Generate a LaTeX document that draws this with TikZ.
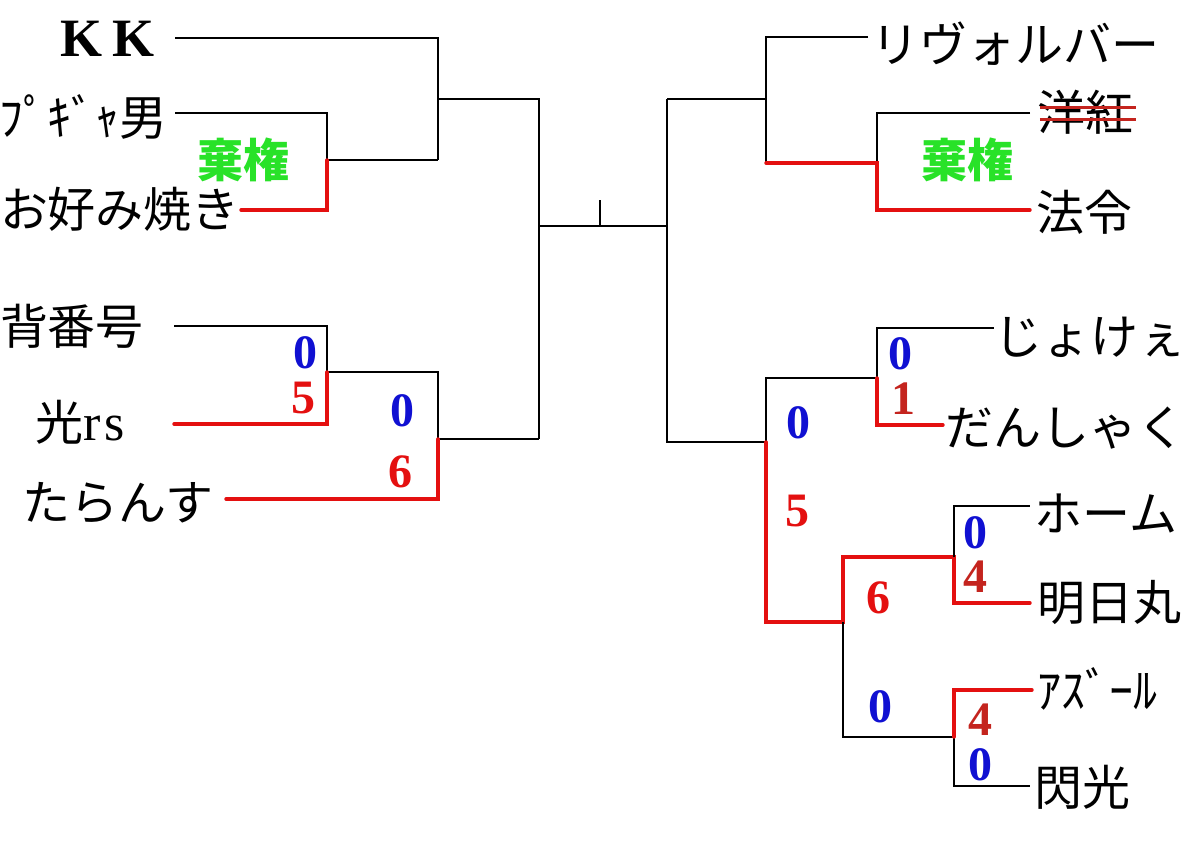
\documentclass[tikz,border=0pt]{standalone}
\usepackage{fontspec}
\newfontfamily\jp{Noto Sans CJK JP}
\newfontfamily\serifb{Liberation Serif}[BoldFont={Liberation Serif Bold}]
\definecolor{sblue}{RGB}{16,16,210}
\definecolor{sred}{RGB}{228,16,16}
\definecolor{dred}{RGB}{196,36,30}
\definecolor{sgreen}{RGB}{40,226,40}
\tikzset{
  pname/.style={inner sep=0pt, text height=42pt, text depth=6pt, font=\jp\fontsize{48}{48}\selectfont},
  score/.style={inner sep=0pt, text height=33pt, text depth=0pt, font=\serifb\bfseries\fontsize{48}{48}\selectfont},
  lose/.style={score, text=sblue},
  win/.style={score, text=sred},
  wind/.style={score, text=dred},
  forfeit/.style={inner sep=0pt, text=sgreen, font=\jp\bfseries\fontsize{46}{46}\selectfont},
  bk/.style={draw=black, line width=1.5pt},
  rd/.style={draw=sred, line width=3.4pt, line cap=round, line join=miter},
}
\begin{document}
\begin{tikzpicture}[x=1pt,y=-1pt]
\useasboundingbox[fill=white] (0,0) rectangle (1200,850);
% ---------- names ----------
\node[pname, text height=38pt, text depth=0pt] (kk) at (108,38) {\serifb\bfseries\fontsize{54}{54}\selectfont K\hspace{10pt}K};
\node[pname] (pg) at (83,118) {ﾌﾟｷﾞｬ男};
\node[pname] (ok) at (120,210) {お好み焼き};
\node[pname] (se) at (72,327) {背番号};
\node[pname] (hi) at (80,422) {光{\serifb\fontsize{52}{52}\selectfont r\hspace{3pt}s}};
\node[pname] (ta) at (118,502) {たらんす};
\node[pname] (rv) at (1015,45) {リヴォルバー};
\node[pname] (yo) at (1085,113) {洋紅};
\node[pname] (ho) at (1084,213) {法令};
\node[pname] (jo) at (1090,337) {じょけぇ};
\node[pname] (da) at (1065,427) {だんしゃく};
\node[pname] (hm) at (1106,513) {ホーム};
\node[pname] (as) at (1109,602) {明日丸};
\node[pname] (az) at (1097,690) {ｱｽﾞｰﾙ};
\node[pname] (sn) at (1082,787) {閃光};
% strike-through
\draw[dred, line width=3pt] ([xshift=3pt,yshift=5pt]yo.west) -- ([xshift=3pt,yshift=5pt]yo.east);
\draw[dred, line width=3pt] ([xshift=3pt,yshift=-7pt]yo.west) -- ([xshift=3pt,yshift=-7pt]yo.east);
% forfeits
\node[forfeit] (ff1) at (243,160) {棄権};
\node[forfeit] (ff2) at (967,160) {棄権};
% ---------- coordinates ----------
\coordinate (kkE) at (175,38);  \coordinate (a1) at (438,38);
\coordinate (pgE) at (175,113); \coordinate (b1) at (327,113);
\coordinate (b2) at (327,160);  \coordinate (okE) at (241,210); \coordinate (b3) at (327,210);
\coordinate (a2) at (438,160);  \coordinate (a3) at (438,99);
\coordinate (c1) at (539,99);   \coordinate (c2) at (539,226);  \coordinate (c3) at (539,439);
\coordinate (m) at (600,226);   \coordinate (mt) at (600,200);
\coordinate (d1) at (667,99);   \coordinate (d2) at (667,226);  \coordinate (d3) at (667,442);
\coordinate (seE) at (174,326); \coordinate (e1) at (327,326);  \coordinate (e2) at (327,372);
\coordinate (hiE) at (174,424); \coordinate (e3) at (327,424);
\coordinate (f1) at (438,372);  \coordinate (f2) at (438,439);
\coordinate (taE) at (226,499); \coordinate (f3) at (438,499);
\coordinate (g0) at (766,37);   \coordinate (g1) at (766,99);   \coordinate (g2) at (766,163);
\coordinate (rvE) at (868,37);
\coordinate (h1) at (877,113);  \coordinate (h2) at (877,163);  \coordinate (h3) at (877,210);
\coordinate (yoE) at (1030,113); \coordinate (hoE) at (1030,210);
\coordinate (i0) at (766,378);  \coordinate (i1) at (766,442);  \coordinate (i2) at (766,622);
\coordinate (j0) at (877,328);  \coordinate (j1) at (877,378);  \coordinate (j2) at (877,425);
\coordinate (joE) at (994,328); \coordinate (daE) at (943,425);
\coordinate (k0) at (843,557);  \coordinate (k1) at (843,622);  \coordinate (k2) at (843,737);
\coordinate (l0) at (954,506);  \coordinate (l1) at (954,557);  \coordinate (l2) at (954,603);
\coordinate (hmE) at (1030,506); \coordinate (asE) at (1030,603);
\coordinate (n0) at (954,690);  \coordinate (n1) at (954,737);  \coordinate (n2) at (954,786);
\coordinate (azE) at (1032,690); \coordinate (snE) at (1030,786);
% ---------- left bracket ----------
\draw[bk] (kkE) -- (a1) -- (a2);
\draw[bk] (pgE) -- (b1) -- (b2) -- (a2);
\draw[rd] (okE) -- (b3) -- (b2);
\draw[bk] (a3) -- (c1) -- (c3);
\draw[bk] (seE) -- (e1) -- (e2) -- (f1) -- (f2) -- (c3);
\draw[rd] (hiE) -- (e3) -- (e2);
\draw[rd] (taE) -- (f3) -- (f2);
% ---------- centre ----------
\draw[bk] (c2) -- (d2);
\draw[bk] (m) -- (mt);
% ---------- right bracket ----------
\draw[bk] (d1) -- (d3) -- (i1);
\draw[bk] (d1) -- (g1);
\draw[bk] (rvE) -- (g0) -- (g2);
\draw[bk] (yoE) -- (h1) -- (h2);
\draw[rd] (g2) -- (h2) -- (h3) -- (hoE);
\draw[bk] (i1) -- (i0) -- (j1) -- (j0) -- (joE);
\draw[rd] (daE) -- (j2) -- (j1);
\draw[rd] (i1) -- (i2) -- (k1) -- (k0) -- (l1) -- (l2) -- (asE);
\draw[bk] (l1) -- (l0) -- (hmE);
\draw[bk] (k1) -- (k2) -- (n1) -- (n2) -- (snE);
\draw[rd] (n1) -- (n0) -- (azE);
% ---------- scores ----------
\node[lose] (s1) at (305,352) {0};
\node[win]  (s2) at (303,397) {5};
\node[lose] (s3) at (402,410) {0};
\node[win]  (s4) at (400,471) {6};
\node[lose] (s5) at (900,353) {0};
\node[wind] (s6) at (903,398) {1};
\node[lose] (s7) at (798,422) {0};
\node[win]  (s8) at (797,510) {5};
\node[lose] (s9) at (975,532) {0};
\node[wind] (s10) at (975,576) {4};
\node[win]  (s11) at (878,597) {6};
\node[lose] (s12) at (880,706) {0};
\node[wind] (s13) at (980,719) {4};
\node[lose] (s14) at (980,764) {0};
\end{tikzpicture}
\end{document}
